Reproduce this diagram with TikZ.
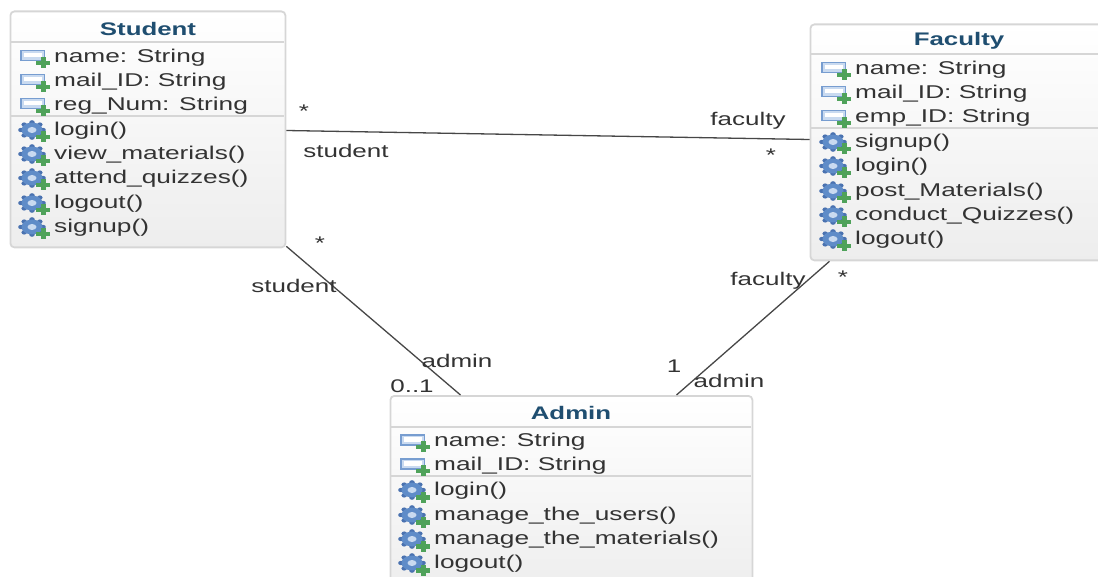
\documentclass[tikz,border=0pt]{standalone}
\usepackage{fontspec}
\setmainfont[FakeStretch=1.42]{Liberation Sans}
\usetikzlibrary{calc}
\definecolor{titleblue}{HTML}{1F4E70}
\definecolor{boxedge}{HTML}{D6D6D6}
\definecolor{txt}{HTML}{333333}
\definecolor{iconblue}{HTML}{5F8CC8}
\definecolor{icondeep}{HTML}{4A72B0}
\definecolor{iconpale}{HTML}{C9DAF0}
\definecolor{icongreen}{HTML}{4FA25A}
\tikzset{
  x=1pt,y=-1pt,
  classbox/.style={draw=boxedge,line width=1.8pt,rounded corners=4pt,anchor=north west,inner sep=0pt,top color=white,bottom color=white!93!black,shading angle=0},
  classtitle/.style={font=\fontsize{18.2}{20}\selectfont\bfseries,text=titleblue,inner sep=0pt},
  member/.style={font=\fontsize{18.5}{20}\selectfont,text=txt,anchor=base west,inner sep=0pt},
  endlabel/.style={font=\fontsize{18.3}{20}\selectfont,text=txt,inner sep=0pt},
  sepline/.style={draw=boxedge,line width=1.5pt},
  assoc/.style={draw=black!72,line width=1.3pt},
}
\newcommand{\attricon}[2]{%
  \fill[iconblue!85] (#1,#2-6) rectangle (#1+25,#2+5.5);
  \fill[iconpale] (#1+1.5,#2-4.5) rectangle (#1+23.5,#2+4);
  \fill[white] (#1+3.5,#2-3) rectangle (#1+21.5,#2+1.5);
  \fill[icongreen] (#1+15.5,#2+4.6) rectangle (#1+30,#2+8.8);
  \fill[icongreen] (#1+20.5,#2+1) rectangle (#1+25.5,#2+12);
}
\newcommand{\opicon}[2]{%
  \foreach \a in {0,45,...,315}{\fill[icondeep] (#1+12,#2+1) ++(\a:11 and 7.6) circle[x radius=2.8,y radius=2.2];}
  \fill[iconblue] (#1+12,#2+1) circle[x radius=10.5,y radius=7.4];
  \fill[iconpale] (#1+12,#2+1) circle[x radius=4.5,y radius=3];
  \fill[icongreen] (#1+15.5,#2+6.3) rectangle (#1+30,#2+10.5);
  \fill[icongreen] (#1+20.5,#2+2.5) rectangle (#1+25.5,#2+13.5);
}
\newcommand{\memberline}[5]{% icon macro, x, y, name, text
  #1{#2}{#3}
  \node[member] (#4) at (#2+34,#3+6.5) {#5};
}
\begin{document}
\begin{tikzpicture}
\useasboundingbox (0,0) rectangle (1098,577);
\clip (0,0) rectangle (1098,577);
% boxes
\node[classbox,minimum width=275pt,minimum height=236pt] (student) at (9.5,10.5) {};
\node[classbox,minimum width=300pt,minimum height=236pt] (faculty) at (809.5,23.5) {};
\node[classbox,minimum width=362pt,minimum height=200pt] (admin) at (389.5,395) {};
% titles
\node[classtitle] (studenttitle) at (148,28.5) {Student};
\node[classtitle] (facultytitle) at (959,40.5) {Faculty};
\node[classtitle] (admintitle) at (571,412.5) {Admin};
% separators
\draw[sepline] (11,42) -- (284,42);
\draw[sepline] (11,116) -- (284,116);
\draw[sepline] (811,54) -- (1098,54);
\draw[sepline] (811,128) -- (1098,128);
\draw[sepline] (391,427) -- (751,427);
\draw[sepline] (391,476) -- (751,476);
% student
\memberline{\attricon}{20}{56}{sa}{name: String}
\memberline{\attricon}{20}{80}{sb}{mail\_ID: String}
\memberline{\attricon}{20}{104}{sc}{reg\_Num: String}
\memberline{\opicon}{20}{129}{sd}{login()}
\memberline{\opicon}{20}{153}{se}{view\_materials()}
\memberline{\opicon}{20}{177}{sf}{attend\_quizzes()}
\memberline{\opicon}{20}{202}{sg}{logout()}
\memberline{\opicon}{20}{226}{sh}{signup()}
% faculty
\memberline{\attricon}{821}{68}{fa}{name: String}
\memberline{\attricon}{821}{92}{fb}{mail\_ID: String}
\memberline{\attricon}{821}{116}{fc}{emp\_ID: String}
\memberline{\opicon}{821}{141}{fd}{signup()}
\memberline{\opicon}{821}{165}{fe}{login()}
\memberline{\opicon}{821}{190}{ff}{post\_Materials()}
\memberline{\opicon}{821}{214}{fg}{conduct\_Quizzes()}
\memberline{\opicon}{821}{238}{fh}{logout()}
% admin
\memberline{\attricon}{400}{440}{aa}{name: String}
\memberline{\attricon}{400}{464}{ab}{mail\_ID: String}
\memberline{\opicon}{400}{489}{ac}{login()}
\memberline{\opicon}{400}{514}{ad}{manage\_the\_users()}
\memberline{\opicon}{400}{538}{ae}{manage\_the\_materials()}
\memberline{\opicon}{400}{562}{af}{logout()}
% connector ends on the box borders
\coordinate (sf1) at ($(student.north east)+(0,120)$);
\coordinate (fs1) at ($(faculty.north west)+(0,116)$);
\coordinate (sa1) at ($(student.south east)+(0,-2)$);
\coordinate (as1) at ($(admin.north west)+(71,0)$);
\coordinate (fa1) at ($(faculty.south west)+(20,0)$);
\coordinate (af1) at ($(admin.north west)+(287,0)$);
\draw[assoc] (sf1) -- (fs1);
\draw[assoc] (sa1) -- (as1);
\draw[assoc] (fa1) -- (af1);
% end labels
\node[endlabel] (l1) at (304,111) {*};
\node[endlabel] (l2) at (346,151) {student};
\node[endlabel] (l3) at (748,121) {faculty};
\node[endlabel] (l4) at (771,155) {*};
\node[endlabel] (l5) at (320,243) {*};
\node[endlabel] (l6) at (294,286) {student};
\node[endlabel] (l7) at (457,361) {admin};
\node[endlabel] (l8) at (412,386) {0..1};
\node[endlabel] (l9) at (768,281) {faculty};
\node[endlabel] (l10) at (843,277) {*};
\node[endlabel] (l11) at (674,366) {1};
\node[endlabel] (l12) at (729,381) {admin};
\end{tikzpicture}
\end{document}
